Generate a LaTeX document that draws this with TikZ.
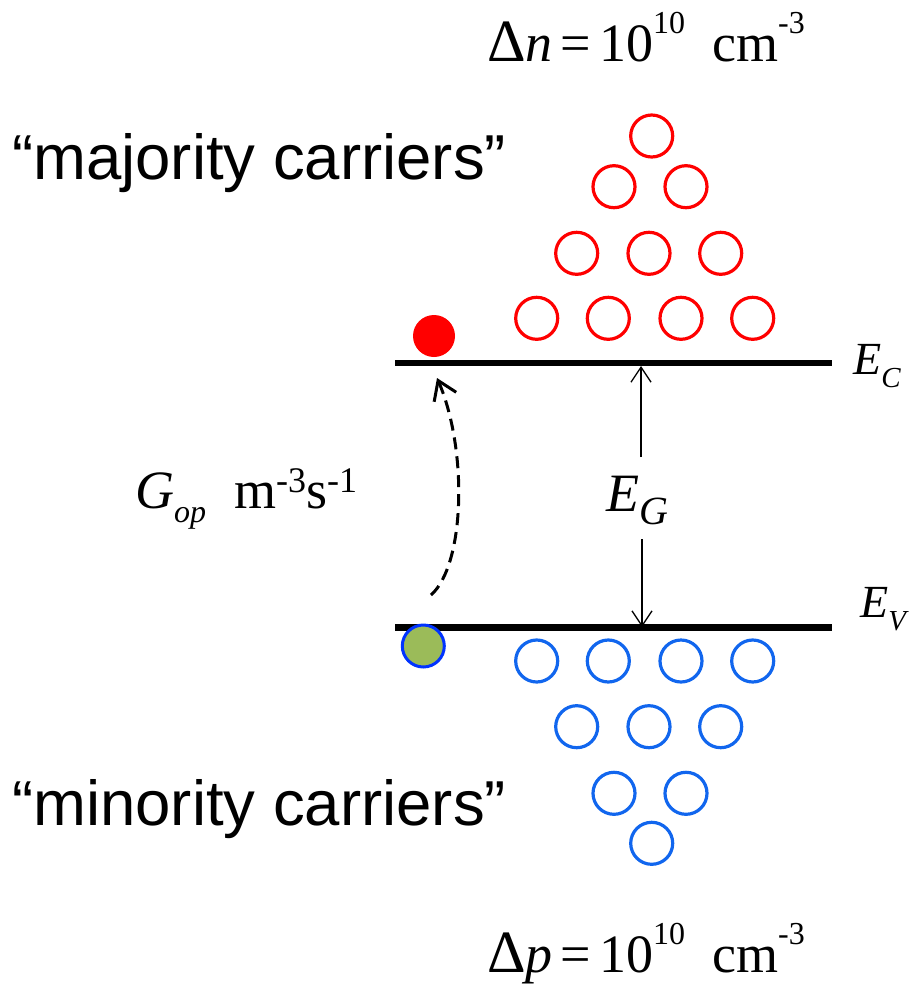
\documentclass[tikz,border=0pt]{standalone}
\usepackage{fontspec}
\setmainfont{Liberation Sans}
\newfontfamily\tms{Liberation Serif}
\usetikzlibrary{arrows.meta}
\definecolor{cbred}{RGB}{255,0,0}
\definecolor{cbblue}{RGB}{17,102,238}
\definecolor{dotblue}{RGB}{0,51,255}
\definecolor{dotgreen}{RGB}{155,187,89}
\newcommand\supn[1]{\raisebox{28pt}{\fontsize{32}{32}\selectfont #1}}
\newcommand\supg[1]{\raisebox{16pt}{\fontsize{36}{36}\selectfont #1}}
\begin{document}
\begin{tikzpicture}[x=1pt,y=-1pt,
  electron/.style={circle,draw=cbred,line width=3.2pt,minimum size=42pt,inner sep=0pt},
  hole/.style={circle,draw=cbblue,line width=3.2pt,minimum size=42pt,inner sep=0pt},
  band/.style={line width=6.5pt},
  lbl/.style={inner sep=0pt,anchor=base west},
  bigtext/.style={lbl,font=\fontsize{63.5}{63.5}\selectfont},
  mathtext/.style={lbl,font=\tms\fontsize{54}{54}\selectfont},
  gaparrow/.style={line width=1.3pt,-{Straight Barb[length=15pt,width=20pt]}},
  genarrow/.style={line width=3pt,dash pattern=on 12pt off 7pt,-{Straight Barb[length=18pt,width=24pt]}}]
\useasboundingbox (0,0) rectangle (920,986);

% bands
\draw[band] (395,363) coordinate (ecL) -- (832,363) coordinate (ecR);
\draw[band] (395,627.5) coordinate (evL) -- (832,627.5) coordinate (evR);

% band labels
\node[lbl,font=\tms\fontsize{46}{46}\selectfont] (EC) at (853,374) {\textit{E}\raisebox{-13pt}{\fontsize{29}{29}\selectfont\textit{C}}};
\node[lbl,font=\tms\fontsize{46}{46}\selectfont] (EV) at (860,617) {\textit{E}\raisebox{-13pt}{\fontsize{29}{29}\selectfont\textit{V}}};

% gap label and arrows
\node[mathtext] (EG) at (606,511) {\textit{E}\raisebox{-13pt}{\fontsize{40}{40}\selectfont\textit{G}}};
\coordinate (gtop) at (641,457);
\coordinate (gtopEnd) at (641,366);
\coordinate (gbot) at (642,539);
\coordinate (gbotEnd) at (642,627);
\draw[gaparrow] (gtop) -- (gtopEnd);
\draw[gaparrow] (gbot) -- (gbotEnd);

% electrons (conduction band)
\node[electron] (n1) at (651.7,136) {};
\node[electron] (n2) at (614,186.7) {};
\node[electron] (n3) at (686,186.7) {};
\node[electron] (n4) at (576.7,253.3) {};
\node[electron] (n5) at (649,253.3) {};
\node[electron] (n6) at (720.7,253.3) {};
\node[electron] (n7) at (536.7,318.3) {};
\node[electron] (n8) at (608.3,318.3) {};
\node[electron] (n9) at (681,318.3) {};
\node[electron] (n10) at (752.7,318.3) {};

% holes (valence band)
\node[hole] (p1) at (536.7,661) {};
\node[hole] (p2) at (608.3,661) {};
\node[hole] (p3) at (681,661) {};
\node[hole] (p4) at (752.7,661) {};
\node[hole] (p5) at (576.7,726.7) {};
\node[hole] (p6) at (649,726.7) {};
\node[hole] (p7) at (720.7,726.7) {};
\node[hole] (p8) at (614,793.3) {};
\node[hole] (p9) at (686,793.3) {};
\node[hole] (p10) at (651.7,843.3) {};

% generated pair
\node[circle,fill=cbred,minimum size=42pt,inner sep=0pt] (gen_e) at (434,336) {};
\node[circle,fill=dotgreen,draw=dotblue,line width=3pt,minimum size=42pt,inner sep=0pt] (gen_h) at (423.3,646) {};
\coordinate (genStart) at (431,595);
\coordinate (genEnd) at (437,378);
\draw[genarrow] (genStart) .. controls (465,565) and (468,450) .. (genEnd);

% generation label
\node[mathtext] (Gop) at (135,508) {\textit{G}\raisebox{-14pt}{\fontsize{32}{32}\selectfont\textit{op}}\hspace{28pt}m\supg{-3}s\supg{-1}};

% concentration labels
\node[mathtext] (dn) at (487,61) {{\fontsize{60}{60}\selectfont Δ}\textit{n}\hspace{8pt}=\hspace{8pt}10\supn{10}\hspace{27pt}cm\supn{-3}};
\node[mathtext] (dp) at (487,972) {{\fontsize{60}{60}\selectfont Δ}\textit{p}\hspace{8pt}=\hspace{8pt}10\supn{10}\hspace{27pt}cm\supn{-3}};

% carrier type labels
\node[bigtext] (maj) at (12,179) {“majority carriers”};
\node[bigtext] (min) at (12,825) {“minority carriers”};
\end{tikzpicture}
\end{document}
